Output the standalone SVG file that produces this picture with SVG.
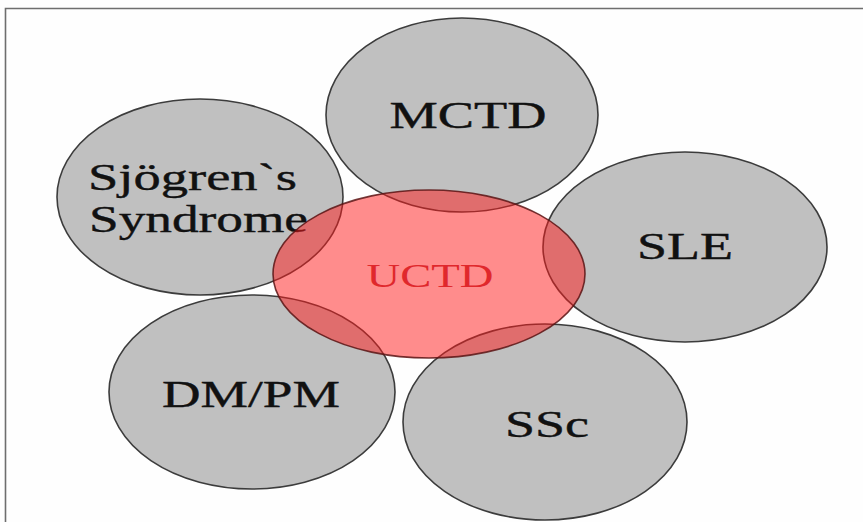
<svg xmlns="http://www.w3.org/2000/svg" width="863" height="522" viewBox="0 0 863 522">
<style>
.bg{fill:#fefefe}
.frame{fill:none;stroke:#6e6e6e;stroke-width:1.6}
.disease{fill:#c0c0c0;stroke:#3c3c3c;stroke-width:1.6}
.core{fill:#ff1a1a;fill-opacity:0.5;stroke:#5a1414;stroke-opacity:0.85;stroke-width:1.6}
.lbl{font-family:"Liberation Serif","Times New Roman",serif;font-size:38px;fill:#111111;stroke:#111111;stroke-width:0.4}
.lblc{font-family:"Liberation Serif","Times New Roman",serif;font-size:33px;fill:#e0282c}
</style>
<rect class="bg" x="0" y="0" width="863" height="522"/>
<path class="frame" d="M5.5,522 V8.5 H863"/>
<g id="connectors"></g>
<g id="mctd">
<ellipse class="disease" cx="462" cy="115" rx="136" ry="97"/>
<text class="lbl" x="468" y="128" text-anchor="middle" textLength="157" lengthAdjust="spacingAndGlyphs">MCTD</text>
</g>
<g id="sjogren">
<ellipse class="disease" cx="200" cy="197" rx="143" ry="98"/>
<text class="lbl" x="88" y="190" textLength="209" lengthAdjust="spacingAndGlyphs">Sjögren`s</text>
<text class="lbl" x="89" y="232" textLength="219" lengthAdjust="spacingAndGlyphs">Syndrome</text>
</g>
<g id="sle">
<ellipse class="disease" cx="685" cy="247" rx="142" ry="95"/>
<text class="lbl" x="685" y="259" text-anchor="middle" textLength="96" lengthAdjust="spacingAndGlyphs">SLE</text>
</g>
<g id="dmpm">
<ellipse class="disease" cx="252" cy="392" rx="143" ry="97"/>
<text class="lbl" x="251" y="407" text-anchor="middle" textLength="178" lengthAdjust="spacingAndGlyphs">DM/PM</text>
</g>
<g id="ssc">
<ellipse class="disease" cx="545" cy="422" rx="142" ry="98"/>
<text class="lbl" x="547" y="437" text-anchor="middle" textLength="84" lengthAdjust="spacingAndGlyphs">SSc</text>
</g>
<g id="uctd">
<ellipse class="core" cx="429" cy="274" rx="156" ry="84"/>
<text class="lblc" x="430" y="287" text-anchor="middle" textLength="127" lengthAdjust="spacingAndGlyphs">UCTD</text>
</g>
</svg>
